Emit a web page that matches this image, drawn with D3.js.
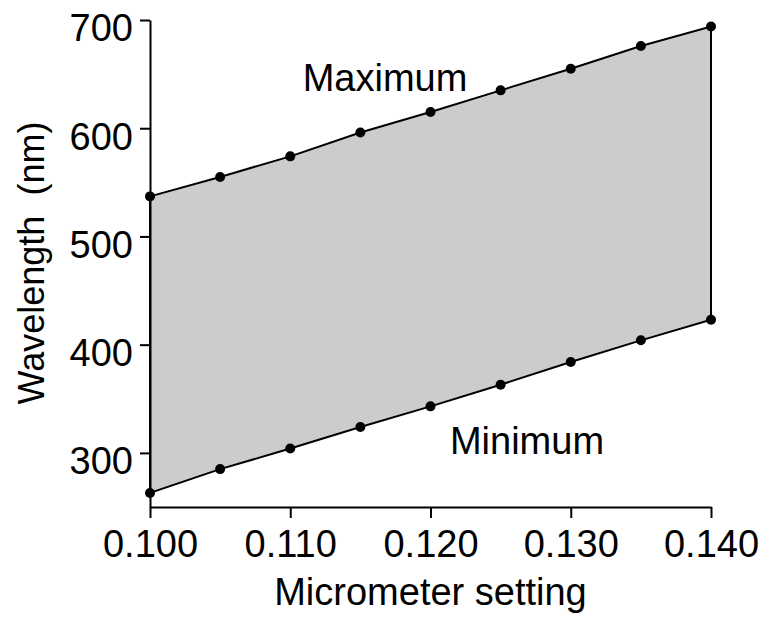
<!DOCTYPE html>
<html>
<head>
<meta charset="utf-8">
<script src="https://cdn.jsdelivr.net/npm/d3@7"></script>
<style>
  html, body { margin: 0; padding: 0; background: #fff; }
  svg { display: block; }
  text { font-family: "Liberation Sans", Arial, Helvetica, sans-serif; fill: #000; }
</style>
</head>
<body>
<svg id="chart" width="762" height="617"></svg>
<script>
// Micrometer settings and the wavelength band (nm) passed at each setting
const micrometer = [0.100, 0.105, 0.110, 0.115, 0.120, 0.125, 0.130, 0.135, 0.140];
const maxWavelength = [537, 555, 574, 596, 615, 635, 655, 676, 694];
const minWavelength = [263, 285, 304, 324, 343, 363, 384, 404, 423];
const xTicks = [0.100, 0.110, 0.120, 0.130, 0.140];
const yTicks = [300, 400, 500, 600, 700];

const W = 762, H = 617;
const margin = { top: 20, right: 51, bottom: 110, left: 150 };
const FS = 38;

const svg = d3.select("#chart");

const x = d3.scaleLinear().domain([0.100, 0.140]).range([margin.left, W - margin.right]);
const y = d3.scaleLinear().domain([250, 700]).range([H - margin.bottom, margin.top]);

// Shaded band between the minimum and maximum curves
const band = micrometer.map((m, i) => ({ m, lo: minWavelength[i], hi: maxWavelength[i] }));
const area = d3.area().x(d => x(d.m)).y0(d => y(d.lo)).y1(d => y(d.hi));
svg.append("path")
  .datum(band)
  .attr("d", area)
  .attr("fill", "#cccccc")
  .attr("stroke", "none");

// Outline: max curve, right edge, min curve back, left edge
const outline = band.map(d => [x(d.m), y(d.hi)])
  .concat(band.slice().reverse().map(d => [x(d.m), y(d.lo)]));
svg.append("path")
  .attr("d", d3.line()(outline) + "Z")
  .attr("fill", "none")
  .attr("stroke", "#000")
  .attr("stroke-width", 2)
  .attr("stroke-linejoin", "miter");

// Axes
const xAxis = svg.append("g")
  .attr("transform", `translate(0,${H - margin.bottom})`)
  .call(d3.axisBottom(x).tickValues(xTicks).tickFormat(d3.format(".3f"))
    .tickSize(11).tickSizeOuter(0).tickPadding(12));
const yAxis = svg.append("g")
  .attr("transform", `translate(${margin.left},0)`)
  .call(d3.axisLeft(y).tickValues(yTicks).tickSize(10).tickSizeOuter(0).tickPadding(7));

[xAxis, yAxis].forEach(g => {
  g.select(".domain").attr("stroke", "#000").attr("stroke-width", 2);
  g.selectAll(".tick line").attr("stroke", "#000").attr("stroke-width", 2);
  g.selectAll(".tick text")
    .attr("font-size", FS)
    .attr("font-family", "Liberation Sans, Arial, Helvetica, sans-serif")
    .attr("fill", "#000");
});
// y labels sit a little below their ticks
yAxis.selectAll(".tick text").attr("dy", "0.55em");

// Data points
const dots = svg.append("g");
[maxWavelength, minWavelength].forEach(series => {
  dots.selectAll(null)
    .data(series.map((v, i) => [micrometer[i], v]))
    .join("circle")
    .attr("cx", d => x(d[0]))
    .attr("cy", d => y(d[1]))
    .attr("r", 5)
    .attr("fill", "#000");
});

// Curve labels
svg.append("text")
  .attr("x", 385).attr("y", 91)
  .attr("text-anchor", "middle")
  .attr("font-size", FS)
  .text("Maximum");
svg.append("text")
  .attr("x", 527).attr("y", 454)
  .attr("text-anchor", "middle")
  .attr("font-size", FS)
  .text("Minimum");

// Axis titles
svg.append("text")
  .attr("x", (margin.left + W - margin.right) / 2)
  .attr("y", 605)
  .attr("text-anchor", "middle")
  .attr("font-size", FS)
  .text("Micrometer setting");
svg.append("text")
  .attr("transform", `translate(44,263) rotate(-90)`)
  .attr("text-anchor", "middle")
  .attr("font-size", 36)
  .attr("xml:space", "preserve")
  .style("white-space", "pre")
  .text("Wavelength  (nm)");
</script>
</body>
</html>
